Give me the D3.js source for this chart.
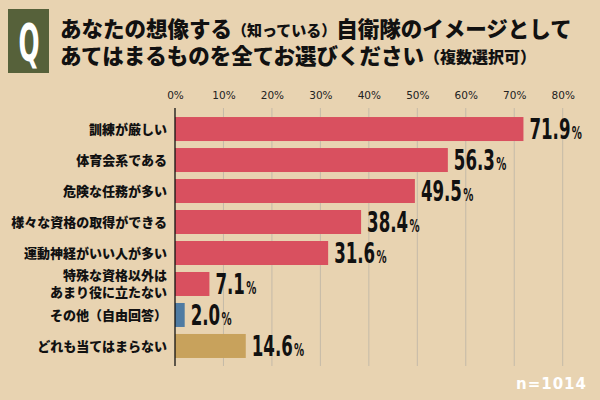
<!DOCTYPE html>
<html>
<head>
<meta charset="utf-8">
<title>自衛隊のイメージ</title>
<script src="https://cdn.jsdelivr.net/npm/d3@7"></script>
<style>
  body { margin: 0; background: #e8d3b1; }
  svg { display: block; }
  text { font-family: "Noto Sans CJK JP", sans-serif; }
</style>
</head>
<body>
<div id="chart"></div>
<script>
// data
const categories = ["訓練が厳しい", "体育会系である", "危険な任務が多い", "様々な資格の取得ができる",
  "運動神経がいい人が多い", "特殊な資格以外は\nあまり役に立たない", "その他（自由回答）", "どれも当てはまらない"];
const values = [71.9, 56.3, 49.5, 38.4, 31.6, 7.1, 2.0, 14.6];
const barColors = ["#d9505f", "#d9505f", "#d9505f", "#d9505f", "#d9505f", "#d9505f", "#4f7ba2", "#c8a25c"];
const ticks = [0, 10, 20, 30, 40, 50, 60, 70, 80];
const sampleNote = "n=1014";

const W = 600, H = 400;
const svg = d3.select("#chart").append("svg")
  .attr("width", W)
  .attr("height", H);

svg.append("rect").attr("width", W).attr("height", H).attr("fill", "#e8d3b1");

// title block
svg.append("rect")
  .attr("x", 8).attr("y", 9).attr("width", 41).attr("height", 64)
  .attr("fill", "#56613a");
svg.append("text")
  .attr("transform", "translate(29,61) scale(0.95,1.8)")
  .attr("text-anchor", "middle")
  .attr("fill", "#fff")
  .style("font-family", "'DejaVu Sans Condensed', sans-serif")
  .style("font-weight", "bold")
  .style("font-size", "29px")
  .text("Q");

const t1 = svg.append("text").attr("x", 60).attr("y", 37)
  .attr("fill", "#111").style("font-weight", 900).style("font-size", "21.5px");
t1.append("tspan").text("あなたの想像する");
t1.append("tspan").style("font-size", "15px").attr("dy", -1).text("（知っている）");
t1.append("tspan").attr("dy", 1).text("自衛隊のイメージとして");

const t2 = svg.append("text").attr("x", 60).attr("y", 64)
  .attr("fill", "#111").style("font-weight", 900).style("font-size", "21.5px");
t2.append("tspan").text("あてはまるものを全てお選びください");
t2.append("tspan").style("font-size", "16px").attr("dy", -1).text("（複数選択可）");

// scales
const x = d3.scaleLinear().domain([0, 80]).range([175, 562.7]);
const y = d3.scaleBand().domain(categories).range([113, 362])
  .paddingInner(0.226).paddingOuter(0.13);

// grid
svg.append("g")
  .selectAll("line")
  .data(ticks.slice(1))
  .join("line")
  .attr("x1", d => x(d)).attr("x2", d => x(d))
  .attr("y1", 108).attr("y2", 366)
  .attr("stroke", "#c4baa8").attr("stroke-width", 1);

// top axis labels
const axis = svg.append("g")
  .attr("transform", "translate(0,99)")
  .call(d3.axisTop(x).tickValues(ticks).tickFormat(d => d + "%").tickSize(0).tickPadding(0));
axis.select(".domain").remove();
axis.selectAll("text")
  .attr("fill", "#222")
  .style("font-family", "'DejaVu Sans', sans-serif")
  .style("font-size", "10.5px");

// bars
svg.append("g")
  .selectAll("rect")
  .data(values)
  .join("rect")
  .attr("x", x(0))
  .attr("y", (d, i) => y(categories[i]))
  .attr("width", d => x(d) - x(0))
  .attr("height", y.bandwidth())
  .attr("fill", (d, i) => barColors[i]);

// y axis line
svg.append("line")
  .attr("x1", x(0)).attr("x2", x(0))
  .attr("y1", 108).attr("y2", 366)
  .attr("stroke", "#111").attr("stroke-width", 1.3);

// category labels
const labels = svg.append("g")
  .selectAll("text")
  .data(categories)
  .join("text")
  .attr("x", 167)
  .attr("y", d => y(d) + y.bandwidth() / 2)
  .attr("text-anchor", "end")
  .attr("fill", "#111")
  .style("font-weight", 900)
  .style("font-size", "13px");
labels.each(function (d) {
  const lines = d.split("\n");
  const el = d3.select(this);
  lines.forEach((ln, k) => {
    el.append("tspan")
      .attr("x", 167)
      .attr("dy", k === 0 ? (lines.length === 1 ? "0.36em" : "-0.3em") : "1.3em")
      .text(ln);
  });
});

// value labels
const vals = svg.append("g")
  .selectAll("g")
  .data(values)
  .join("g")
  .attr("transform", (d, i) => `translate(${x(d) + 6},${y(categories[i]) + y.bandwidth() / 2 + 10}) scale(0.66,1)`);
const vt = vals.append("text")
  .attr("fill", "#111")
  .style("font-family", "'DejaVu Sans Condensed', sans-serif")
  .style("font-weight", "bold");
vt.append("tspan").style("font-size", "28px").text(d => d.toFixed(1));
vt.append("tspan").style("font-size", "17px").attr("dx", 2).text("%");

// sample size
svg.append("text")
  .attr("x", 587).attr("y", 389)
  .attr("text-anchor", "end")
  .attr("fill", "#fff")
  .style("font-family", "'DejaVu Sans', sans-serif")
  .style("font-weight", "bold")
  .style("font-size", "15px")
  .style("letter-spacing", "1px")
  .text(sampleNote);
</script>
</body>
</html>
